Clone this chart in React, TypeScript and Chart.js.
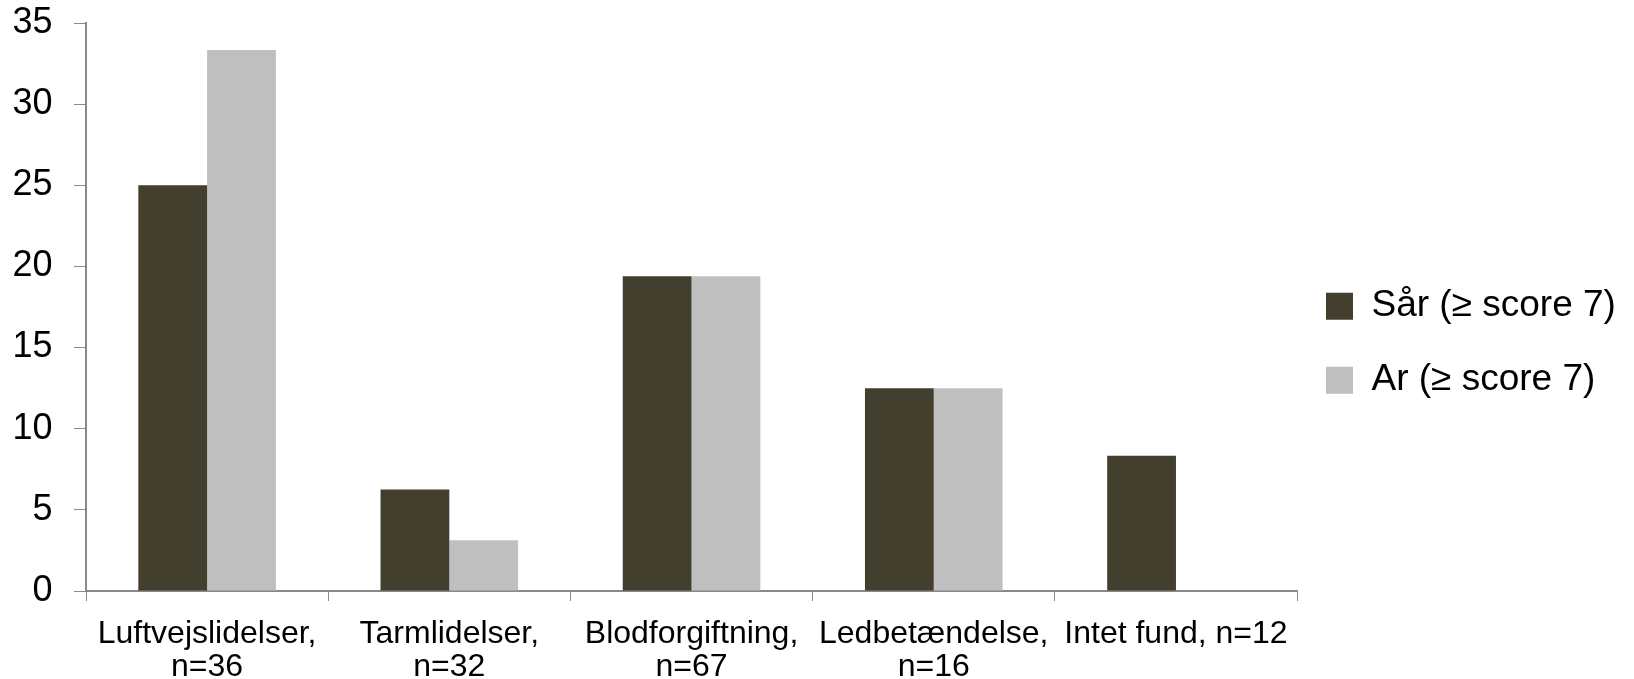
import React, { useEffect, useRef } from "react";
import { Chart, registerables } from "chart.js";

Chart.register(...registerables);

const categories: string[][] = [
  ["Luftvejslidelser,", "n=36"],
  ["Tarmlidelser,", "n=32"],
  ["Blodforgiftning,", "n=67"],
  ["Ledbetændelse,", "n=16"],
  ["Intet fund, n=12"],
];
const sarValues = [25.0, 6.25, 19.4, 12.5, 8.33];
const arValues = [33.33, 3.13, 19.4, 12.5, 0];
const seriesNames = ["Sår (≥ score 7)", "Ar (≥ score 7)"];
const yTicks = [0, 5, 10, 15, 20, 25, 30, 35];

const FONT = "'Liberation Sans', Arial, sans-serif";

export default function App() {
  const ref = useRef<HTMLCanvasElement | null>(null);
  useEffect(() => {
    if (!ref.current) return;
    const axisColor = "#898989";
    const legendShift = {
      id: "legendShift",
      afterLayout(chart: any) {
        const lg = chart.legend;
        if (!lg) return;
        const dx = 1326 - 37 - lg.left;
        lg.left += dx;
        lg.right += dx;
        lg.top = 7.4;
      },
    };
    const chart = new Chart(ref.current, {
      type: "bar",
      data: {
        labels: categories,
        datasets: [
          {
            label: seriesNames[0],
            data: sarValues,
            backgroundColor: "#433F2E",
            categoryPercentage: 0.568,
            barPercentage: 1,
          },
          {
            label: seriesNames[1],
            data: arValues,
            backgroundColor: "#BFBFBF",
            categoryPercentage: 0.568,
            barPercentage: 1,
          },
        ],
      },
      plugins: [legendShift],
      options: {
        animation: false,
        responsive: true,
        maintainAspectRatio: false,
        layout: { padding: { left: 13, top: 23, right: 0, bottom: 0 } },
        plugins: {
          tooltip: { enabled: false },
          legend: {
            position: "right",
            align: "center",
            labels: {
              boxWidth: 27,
              boxHeight: 27,
              padding: 37,
              color: "#000000",
              font: { family: FONT, size: 37 },
            },
          },
        },
        scales: {
          x: {
            afterFit: (axis: any) => {
              axis.height = 88;
            },
            grid: {
              drawOnChartArea: false,
              drawTicks: true,
              tickLength: 10,
              color: axisColor,
              offset: true,
            },
            border: { color: axisColor, width: 2 },
            ticks: {
              color: "#000000",
              padding: 16,
              maxRotation: 0,
              autoSkip: false,
              font: { family: FONT, size: 32, lineHeight: 1.05 },
            },
          },
          y: {
            min: 0,
            max: 35,
            afterFit: (axis: any) => {
              axis.width = 73;
              axis.paddingTop = 0;
              axis.paddingBottom = 0;
            },
            afterBuildTicks: (axis: any) => {
              axis.ticks = yTicks.map((v) => ({ value: v }));
            },
            grid: {
              drawOnChartArea: false,
              drawTicks: true,
              tickLength: 12,
              color: axisColor,
            },
            border: { color: axisColor, width: 2 },
            ticks: {
              color: "#000000",
              padding: 21.5,
              font: { family: FONT, size: 36 },
            },
          },
        },
      },
    });
    return () => chart.destroy();
  }, []);
  return (
    <div style={{ position: "fixed", left: 0, top: 0, width: 1634, height: 679, background: "#fff" }}>
      <canvas ref={ref} />
    </div>
  );
}
